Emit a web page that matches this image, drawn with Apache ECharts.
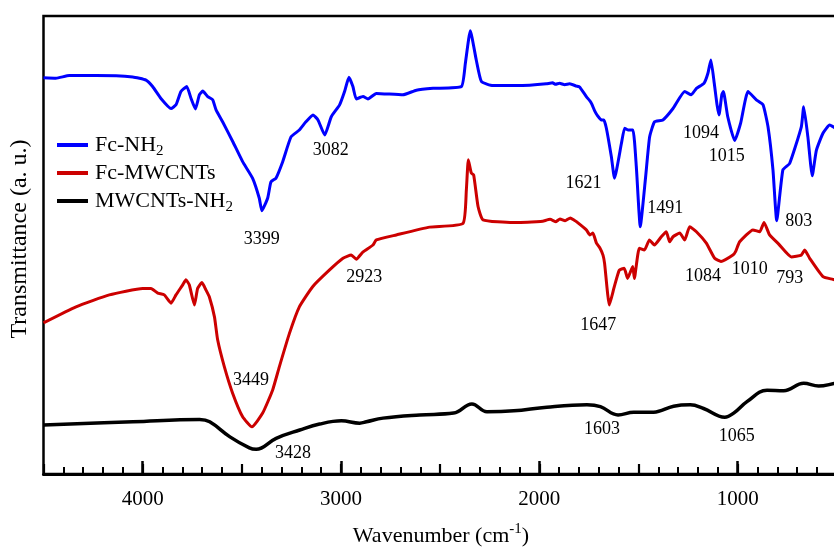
<!DOCTYPE html>
<html>
<head>
<meta charset="utf-8">
<title>FTIR spectra</title>
<script src="https://cdn.jsdelivr.net/npm/echarts@6/dist/echarts.min.js"></script>
<style>
  html, body { margin: 0; padding: 0; background: #fff; }
  #chart { width: 834px; height: 548px; }
</style>
</head>
<body>
<div id="chart"></div>
<script>
// FTIR spectra: [wavenumber (cm-1), transmittance (a.u.)]
const fcNh2 = [
  [4500, 86.5], [4437, 86.4], [4370, 87.0], [4235, 87.0], [4050, 86.7], [3983, 86.0],
  [3950, 84.6], [3908, 82.0], [3857, 79.8], [3832, 80.6], [3807, 83.5], [3778, 84.6],
  [3756, 82.0], [3734, 79.7], [3714, 82.8], [3697, 83.6], [3672, 82.4], [3647, 81.7],
  [3630, 79.5], [3597, 76.9], [3546, 72.6], [3496, 68.2], [3446, 64.6], [3412, 60.2],
  [3399, 57.5], [3370, 60.2], [3353, 63.8], [3328, 64.6], [3294, 68.2], [3252, 73.6],
  [3210, 75.1], [3177, 76.9], [3141, 78.4], [3116, 77.3], [3082, 74.0], [3049, 78.0],
  [3007, 80.6], [2982, 83.5], [2960, 86.6], [2940, 84.6], [2923, 81.9], [2889, 82.4],
  [2864, 81.9], [2822, 83.1], [2688, 82.8], [2620, 83.8], [2536, 84.2], [2393, 84.6],
  [2373, 89.7], [2348, 96.8], [2318, 90.4], [2292, 85.7], [2234, 84.8], [2116, 84.8],
  [2049, 84.9], [1965, 85.2], [1933, 85.4], [1918, 85.1], [1898, 85.3], [1872, 85.0],
  [1847, 85.2], [1813, 84.7], [1797, 84.5], [1763, 82.4], [1746, 81.5], [1736, 80.8],
  [1721, 79.3], [1706, 78.2], [1687, 77.3], [1675, 77.3], [1662, 75.5], [1637, 69.3],
  [1621, 64.6], [1586, 72.2], [1570, 75.5], [1553, 75.1], [1528, 75.1], [1511, 67.1],
  [1491, 54.0], [1464, 64.9], [1444, 73.6], [1419, 76.9], [1377, 77.3], [1326, 79.8],
  [1267, 83.5], [1234, 82.8], [1208, 84.2], [1170, 85.3], [1150, 87.5], [1135, 90.4],
  [1118, 85.3], [1104, 80.6], [1094, 78.4], [1080, 82.8], [1072, 83.5], [1050, 78.0],
  [1015, 72.8], [985, 76.6], [948, 83.5], [906, 81.7], [872, 80.6], [847, 75.8],
  [822, 66.4], [803, 55.3], [772, 66.4], [738, 67.8], [679, 75.8], [667, 80.2],
  [646, 73.6], [624, 65.1], [603, 70.7], [570, 74.4], [536, 76.2], [508, 75.5], [480, 74.0]
];

const fcMwcnts = [
  [4500, 33.0], [4336, 36.5], [4168, 39.1], [4000, 40.5], [3958, 40.5], [3924, 39.5],
  [3891, 39.1], [3857, 37.3], [3832, 39.1], [3798, 41.3], [3782, 42.4], [3765, 41.3],
  [3739, 36.9], [3723, 40.5], [3701, 41.8], [3681, 40.2], [3664, 38.7], [3638, 34.3],
  [3622, 29.3], [3588, 23.4], [3546, 17.6], [3496, 12.5], [3449, 10.3], [3395, 13.3],
  [3345, 18.3], [3311, 23.4], [3260, 30.7], [3210, 36.5], [3143, 40.9], [3059, 44.5],
  [2990, 47.1], [2948, 47.8], [2923, 46.9], [2889, 48.5], [2839, 50.0], [2822, 51.1],
  [2721, 52.2], [2553, 53.9], [2385, 54.7], [2368, 62.0], [2358, 68.6], [2343, 65.7],
  [2331, 65.3], [2309, 58.4], [2284, 55.5], [2133, 54.9], [2015, 55.1], [1983, 55.2],
  [1946, 55.6], [1916, 55.1], [1896, 55.7], [1870, 55.3], [1844, 55.9], [1824, 55.4],
  [1813, 55.1], [1763, 53.3], [1745, 52.2], [1730, 52.6], [1712, 50.4], [1694, 49.3],
  [1679, 47.8], [1671, 46.0], [1647, 36.9], [1622, 40.9], [1597, 44.5], [1572, 44.9],
  [1555, 42.7], [1529, 45.3], [1521, 42.7], [1496, 49.3], [1470, 48.9], [1445, 51.1],
  [1420, 50.0], [1385, 51.8], [1360, 52.9], [1343, 50.7], [1326, 51.8], [1292, 52.6],
  [1267, 51.1], [1242, 54.0], [1208, 52.9], [1158, 50.4], [1116, 47.1], [1084, 46.4],
  [1024, 47.8], [1010, 48.6], [990, 50.7], [923, 53.3], [889, 52.9], [867, 54.9],
  [839, 52.2], [793, 50.2], [729, 47.4], [679, 47.8], [662, 48.9], [637, 47.1],
  [570, 43.1], [520, 42.5], [480, 42.0]
];

const mwcntsNh2 = [
  [4500, 10.7], [4049, 11.4], [3713, 11.9], [3662, 11.4], [3560, 8.1], [3462, 5.7],
  [3428, 5.4], [3327, 7.8], [3208, 9.6], [3108, 10.9], [2998, 11.6], [2906, 11.1],
  [2872, 11.4], [2788, 12.2], [2603, 12.9], [2432, 13.3], [2340, 15.3], [2264, 13.6],
  [2129, 13.8], [1962, 14.6], [1760, 15.1], [1692, 14.7], [1603, 12.9], [1524, 13.5],
  [1424, 13.5], [1323, 14.8], [1239, 15.1], [1172, 14.3], [1065, 12.4], [1020, 13.3],
  [953, 15.8], [852, 18.3], [768, 18.2], [667, 19.8], [592, 19.2], [508, 19.8], [480, 20.0]
];

// Band positions annotated on each spectrum (cm-1)
const fcNh2Bands = [3399, 3082, 1621, 1491, 1094, 1015, 803];
const fcMwcntsBands = [3449, 2923, 1647, 1084, 1010, 793];
const mwcntsNh2Bands = [3428, 1603, 1065];

const seriesNames = ['Fc-NH2', 'Fc-MWCNTs', 'MWCNTs-NH2'];
const xTickLabels = [4000, 3000, 2000, 1000];

// label placement relative to each band point, in pixels
const bandLabelOffset = {
  3399: [0, 29], 3082: [6, 15], 1621: [-31, 5], 1491: [25, -18], 1094: [-18, 18],
  1015: [-8, 16], 803: [22, 1],
  3449: [-1, -47], 2923: [8, 18], 1647: [-11, 20], 1084: [-18, 15], 1010: [14, 18], 793: [11, 34],
  3428: [37, 4], 1603: [-16, 14], 1065: [12, 19]
};

const FONT = '"Liberation Serif", "Times New Roman", serif';

function bandMarks(data, bands) {
  return bands.map(function (b) {
    const pt = data.find(function (d) { return d[0] === b; });
    return {
      coord: [pt[0], pt[1]],
      value: b,
      label: { offset: bandLabelOffset[b] }
    };
  });
}

function makeSeries(name, data, bands, color, width, smooth) {
  return {
    name: name,
    type: 'line',
    data: data,
    xAxisIndex: 0,
    yAxisIndex: 0,
    showSymbol: false,
    symbol: 'none',
    smooth: smooth,
    lineStyle: { color: color, width: width },
    itemStyle: { color: color },
    markPoint: {
      symbol: 'circle',
      symbolSize: 1,
      itemStyle: { color: 'rgba(0,0,0,0)' },
      label: {
        show: true,
        position: 'inside',
        color: '#000',
        fontFamily: FONT,
        fontSize: 18,
        formatter: function (p) { return String(p.data.value); }
      },
      data: bandMarks(data, bands)
    }
  };
}

const chart = echarts.init(document.getElementById('chart'), null, { renderer: 'canvas' });

const axisCommon = {
  type: 'value',
  gridIndex: 0,
  position: 'bottom',
  inverse: true,
  min: 0,
  max: 4500,
  splitLine: { show: false }
};

chart.setOption({
  animation: false,
  backgroundColor: '#fff',
  grid: {
    left: 43.5,
    top: 16,
    right: -102,
    bottom: 74,
    containLabel: false,
    outerBoundsMode: 'none',
    show: true,
    borderColor: '#000',
    borderWidth: 2.5,
    backgroundColor: 'transparent'
  },
  legend: {
    orient: 'vertical',
    left: 57,
    top: 131,
    padding: 0,
    icon: 'rect',
    itemWidth: 31,
    itemHeight: 4,
    itemGap: 0,
    data: seriesNames,
    formatter: function (name) {
      return name.replace(/NH2$/, 'NH{sub|2}');
    },
    textStyle: {
      fontFamily: FONT,
      fontSize: 22,
      lineHeight: 28,
      color: '#000',
      padding: [0, 0, 0, 2],
      rich: {
        sub: { fontFamily: FONT, fontSize: 15, lineHeight: 14, verticalAlign: 'bottom', color: '#000' }
      }
    }
  },
  xAxis: [
    Object.assign({}, axisCommon, {
      interval: 1000,
      axisLine: { show: true, lineStyle: { color: '#000', width: 3 } },
      axisTick: { show: true, inside: true, length: 13, lineStyle: { color: '#000', width: 2.5 } },
      axisLabel: {
        show: true,
        margin: 15,
        color: '#000',
        fontFamily: FONT,
        fontSize: 21,
        showMaxLabel: false,
        formatter: function (v) { return xTickLabels.indexOf(v) >= 0 ? String(v) : ''; }
      }
    }),
    Object.assign({}, axisCommon, {
      interval: 500,
      axisLine: { show: false },
      axisTick: { show: true, inside: true, length: 10, lineStyle: { color: '#000', width: 2.2 } },
      axisLabel: { show: false }
    }),
    Object.assign({}, axisCommon, {
      interval: 100,
      axisLine: { show: false },
      axisTick: { show: true, inside: true, length: 7, lineStyle: { color: '#000', width: 2 } },
      axisLabel: { show: false }
    })
  ],
  yAxis: {
    type: 'value',
    min: 0,
    max: 100,
    axisLine: { show: true, lineStyle: { color: '#000', width: 3 } },
    axisTick: { show: false },
    axisLabel: { show: false },
    splitLine: { show: false }
  },
  graphic: [
    {
      type: 'text',
      x: 441,
      y: 536,
      style: {
        text: 'Wavenumber (cm{sup|-1})',
        fill: '#000',
        font: '22px ' + FONT,
        align: 'center',
        verticalAlign: 'middle',
        lineHeight: 28,
        rich: {
          sup: { fontFamily: FONT, fontSize: 15, lineHeight: 14, verticalAlign: 'top', fill: '#000' }
        }
      }
    },
    {
      type: 'text',
      x: 20,
      y: 239,
      rotation: Math.PI / 2,
      style: {
        text: 'Transmittance (a. u.)',
        fill: '#000',
        font: '24px ' + FONT,
        align: 'center',
        verticalAlign: 'middle'
      }
    }
  ],
  series: [
    makeSeries(seriesNames[0], fcNh2, fcNh2Bands, '#0000ff', 3, 0.15),
    makeSeries(seriesNames[1], fcMwcnts, fcMwcntsBands, '#cc0000', 3, 0.15),
    makeSeries(seriesNames[2], mwcntsNh2, mwcntsNh2Bands, '#000000', 3.5, 0.4)
  ]
});
</script>
</body>
</html>
